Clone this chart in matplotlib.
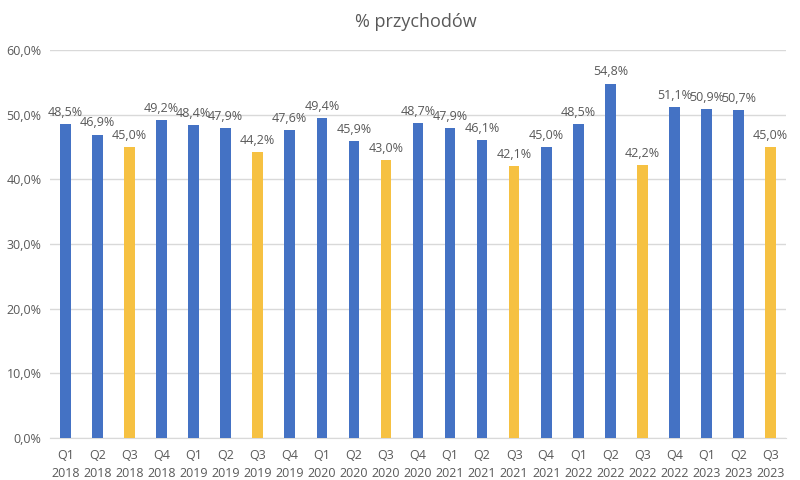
import matplotlib
matplotlib.use("Agg")
import matplotlib.pyplot as plt

quarters = ["Q1", "Q2", "Q3", "Q4"] * 5 + ["Q1", "Q2", "Q3"]
years = [y for y in range(2018, 2023) for _ in range(4)] + [2023] * 3
values = [48.5, 46.9, 45.0, 49.2, 48.4, 47.9, 44.2, 47.6, 49.4, 45.9, 43.0, 48.7,
          47.9, 46.1, 42.1, 45.0, 48.5, 54.8, 42.2, 51.1, 50.9, 50.7, 45.0]
labels = [f"{q}\n{y}" for q, y in zip(quarters, years)]

blue = "#4472C4"
yellow = "#F6C142"
txt = "#595959"
plt.rcParams['font.family'] = ['Open Sans', 'DejaVu Sans']

fig = plt.figure(figsize=(8, 4.8), dpi=100)
ax = fig.add_axes([0.0625, 0.0875, 0.92, 0.8085])
x = list(range(len(values)))
colors = [yellow if q == "Q3" else blue for q in quarters]
bars = ax.bar(x, values, width=0.33, color=colors, zorder=3)
for xi, v in zip(x, values):
    ax.text(xi, v + 0.8, f"{v:.1f}%".replace(".", ","), ha="center", va="bottom",
            fontsize=9, color=txt)
ax.set_xlim(-0.48, 22.48)
ax.set_ylim(0, 60)
ax.set_yticks(range(0, 61, 10))
ax.set_yticklabels([f"{t},0%" for t in range(0, 61, 10)], fontsize=9, color=txt)
ax.set_xticks(x)
ax.set_xticklabels(labels, fontsize=9, color=txt, linespacing=1.5)
ax.grid(axis="y", color="#D9D9D9", linewidth=1, zorder=0)
for s in ["top", "right", "left"]:
    ax.spines[s].set_visible(False)
ax.spines["bottom"].set_color("#D9D9D9")
ax.tick_params(length=0, pad=8)
ax.tick_params(axis="y", pad=6)
fig.text(0.52, 0.955, "% przychodów", ha="center", va="center", fontsize=13, color=txt)
fig.savefig("out.png", dpi=100)
